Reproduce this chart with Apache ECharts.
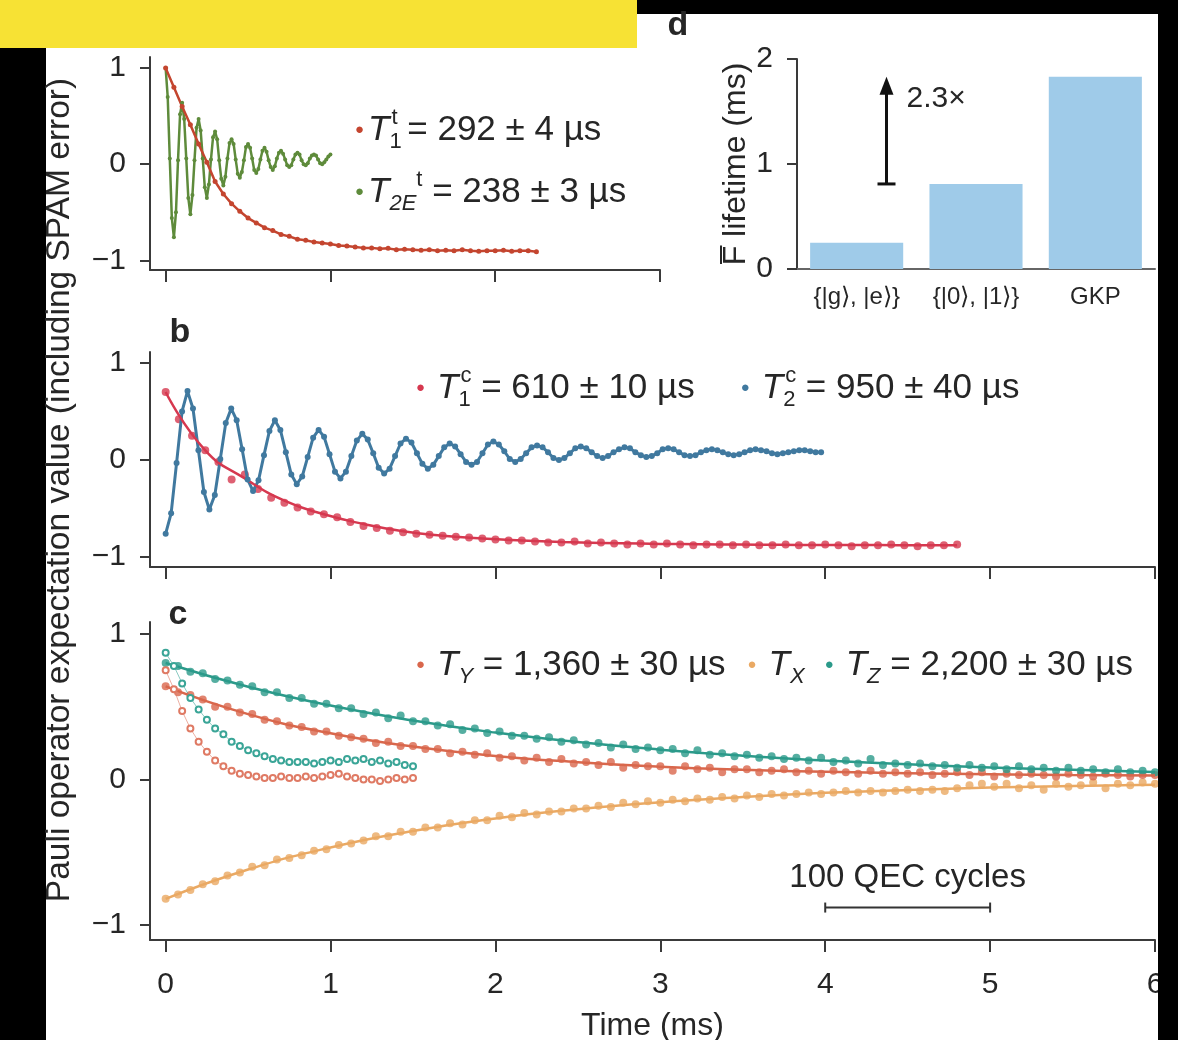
<!DOCTYPE html>
<html lang="en">
<head>
  <meta charset="UTF-8">
  <title>QEC lifetimes</title>
  <script src="https://cdn.jsdelivr.net/npm/echarts@6/dist/echarts.min.js"></script>
  <style>
    body { margin: 0; background: #000; }
    #wrap { position: relative; width: 1178px; height: 1040px; background: #000; overflow: hidden; }
    .blk { position: absolute; }
  </style>
</head>
<body>
  <div id="wrap">
    <div class="blk" style="left:46px;top:14px;width:1112px;height:1026px;background:#fff"></div>
    <div class="blk" style="left:0;top:0;width:637px;height:48px;background:#f7e234"></div>
    <div id="chart" class="blk" style="left:0;top:0;width:1178px;height:1040px"></div>
    <div class="blk" style="left:1158px;top:0;width:20px;height:1040px;background:#000"></div>
  </div>

  <script>
    const FONT = '"Liberation Sans", Arial, Helvetica, sans-serif';

    // ---- panel a : transmon T1 and T2E ----
    const aT1Step = 0.05;
    const aT1 = [1.00, 0.80, 0.60, 0.41, 0.21, 0.02, -0.18, -0.31, -0.41, -0.49,
      -0.56, -0.61, -0.66, -0.69, -0.73, -0.75, -0.78, -0.79, -0.81, -0.82,
      -0.83, -0.845, -0.85, -0.86, -0.87, -0.87, -0.88, -0.875, -0.89, -0.885,
      -0.89, -0.895, -0.89, -0.90, -0.895, -0.90, -0.89, -0.90, -0.905, -0.90,
      -0.90, -0.895, -0.905, -0.90, -0.90, -0.91];
    const aT2EStep = 0.0125;
    const aT2E = [1.00, 0.70, 0.06, -0.56, -0.76, -0.50, 0.04, 0.52,
      0.64, 0.47, 0.06, -0.35, -0.52, -0.32, 0.04, 0.38,
      0.47, 0.35, 0.06, -0.24, -0.35, -0.21, 0.05, 0.28,
      0.34, 0.26, 0.04, -0.15, -0.22, -0.13, 0.06, 0.22,
      0.26, 0.21, 0.05, -0.10, -0.14, -0.08, 0.04, 0.18,
      0.21, 0.17, 0.06, -0.06, -0.09, -0.05, 0.05, 0.14,
      0.17, 0.13, 0.04, -0.03, -0.06, -0.02, 0.06, 0.12,
      0.14, 0.11, 0.05, -0.01, -0.03, -0.01, 0.05, 0.10,
      0.12, 0.10, 0.04, 0.00, -0.01, 0.01, 0.06, 0.09,
      0.10, 0.09, 0.05, 0.01, 0.00, 0.02, 0.05, 0.08,
      0.10];

    // ---- panel b : cavity T1 and T2 ----
    const bT1Step = 0.08;
    const bT1 = [0.70, 0.42, 0.25, 0.10, -0.02, -0.20, -0.15, -0.30, -0.39, -0.44,
      -0.49, -0.53, -0.56, -0.59, -0.64, -0.68, -0.70, -0.73, -0.745, -0.76,
      -0.77, -0.78, -0.79, -0.80, -0.81, -0.82, -0.83, -0.83, -0.84, -0.85,
      -0.85, -0.84, -0.86, -0.85, -0.86, -0.87, -0.86, -0.87, -0.86, -0.87,
      -0.88, -0.87, -0.87, -0.88, -0.87, -0.88, -0.88, -0.87, -0.88, -0.88,
      -0.87, -0.88, -0.89, -0.88, -0.88, -0.87, -0.88, -0.89, -0.88, -0.88,
      -0.87];
    const bT1FitStep = 0.24;
    const bT1Fit = [0.70, 0.10, -0.19, -0.42, -0.56, -0.66, -0.735, -0.78, -0.81, -0.83,
      -0.845, -0.855, -0.862, -0.867, -0.87, -0.873, -0.875, -0.876, -0.877, -0.878, -0.878];
    const bT2Step = 0.033125;
    const bT2 = [-0.76, -0.55, -0.03, 0.50, 0.71, 0.53, 0.10, -0.33,
      -0.51, -0.36, 0.01, 0.38, 0.53, 0.41, 0.11, -0.20,
      -0.32, -0.21, 0.05, 0.30, 0.41, 0.31, 0.08, -0.15,
      -0.25, -0.17, 0.03, 0.23, 0.31, 0.24, 0.06, -0.12,
      -0.19, -0.12, 0.04, 0.20, 0.27, 0.21, 0.07, -0.08,
      -0.14, -0.09, 0.04, 0.17, 0.22, 0.18, 0.07, -0.04,
      -0.09, -0.05, 0.04, 0.13, 0.17, 0.14, 0.06, -0.02,
      -0.05, -0.02, 0.07, 0.16, 0.19, 0.16, 0.09, 0.01,
      -0.02, 0.01, 0.07, 0.13, 0.15, 0.13, 0.08, 0.02,
      0.00, 0.02, 0.07, 0.12, 0.14, 0.12, 0.08, 0.04,
      0.02, 0.04, 0.08, 0.11, 0.13, 0.12, 0.08, 0.05,
      0.03, 0.04, 0.07, 0.11, 0.12, 0.11, 0.08, 0.05,
      0.04, 0.05, 0.08, 0.10, 0.11, 0.10, 0.08, 0.06,
      0.05, 0.06, 0.08, 0.10, 0.11, 0.10, 0.09, 0.07,
      0.06, 0.07, 0.08, 0.09, 0.10, 0.10, 0.09, 0.08,
      0.08];

    // ---- panel c : logical qubit Pauli decays ----
    const cStep = 0.075;
    const cTY = [0.64, 0.60, 0.58, 0.55, 0.50, 0.50, 0.46, 0.45, 0.41, 0.40,
      0.37, 0.36, 0.33, 0.33, 0.30, 0.29, 0.28, 0.25, 0.26, 0.23,
      0.23, 0.21, 0.21, 0.18, 0.19, 0.17, 0.18, 0.15, 0.16, 0.13,
      0.15, 0.12, 0.14, 0.11, 0.12, 0.10, 0.12, 0.08, 0.10, 0.09,
      0.09, 0.06, 0.09, 0.07, 0.08, 0.05, 0.07, 0.07, 0.05, 0.06,
      0.07, 0.05, 0.06, 0.04, 0.06, 0.05, 0.04, 0.06, 0.04, 0.05,
      0.04, 0.05, 0.03, 0.04, 0.05, 0.03, 0.05, 0.02, 0.04, 0.03,
      0.04, 0.03, 0.02, 0.04, 0.03, 0.02, 0.04, 0.03, 0.02, 0.03, 0.03];
    const cTX = [-0.82, -0.79, -0.76, -0.72, -0.70, -0.66, -0.64, -0.60, -0.59, -0.55,
      -0.54, -0.52, -0.49, -0.48, -0.45, -0.44, -0.42, -0.39, -0.39, -0.36,
      -0.36, -0.33, -0.33, -0.30, -0.31, -0.28, -0.28, -0.25, -0.26, -0.23,
      -0.24, -0.22, -0.22, -0.20, -0.20, -0.18, -0.19, -0.16, -0.17, -0.15,
      -0.16, -0.14, -0.15, -0.13, -0.14, -0.12, -0.13, -0.11, -0.12, -0.10,
      -0.11, -0.10, -0.09, -0.10, -0.09, -0.08, -0.09, -0.08, -0.09, -0.08,
      -0.07, -0.08, -0.07, -0.08, -0.06, -0.04, -0.03, -0.05, -0.03, -0.06,
      -0.04, -0.07, -0.03, -0.05, -0.04, -0.02, -0.06, -0.03, -0.04, -0.02, -0.03];
    const cTZ = [0.80, 0.78, 0.74, 0.73, 0.69, 0.68, 0.65, 0.64, 0.60, 0.60,
      0.56, 0.56, 0.52, 0.52, 0.49, 0.49, 0.45, 0.46, 0.42, 0.44,
      0.40, 0.40, 0.37, 0.38, 0.34, 0.35, 0.32, 0.33, 0.30, 0.30,
      0.28, 0.29, 0.26, 0.27, 0.24, 0.25, 0.22, 0.24, 0.21, 0.22,
      0.20, 0.21, 0.18, 0.20, 0.17, 0.18, 0.16, 0.17, 0.15, 0.16,
      0.14, 0.15, 0.13, 0.15, 0.12, 0.13, 0.11, 0.14, 0.10, 0.11,
      0.10, 0.11, 0.09, 0.10, 0.08, 0.10, 0.08, 0.09, 0.07, 0.09,
      0.07, 0.08, 0.06, 0.08, 0.06, 0.07, 0.05, 0.07, 0.05, 0.06, 0.05];
    const cFitStep = 0.5;
    const cTYFit = [0.64, 0.449, 0.317, 0.226, 0.162, 0.119, 0.088, 0.067, 0.053, 0.043, 0.036, 0.031, 0.028];
    const cTXFit = [-0.82, -0.619, -0.467, -0.354, -0.268, -0.204, -0.156, -0.120, -0.092, -0.072, -0.056, -0.045, -0.036];
    const cTZFit = [0.80, 0.637, 0.508, 0.405, 0.322, 0.257, 0.205, 0.163, 0.130, 0.104, 0.082, 0.066, 0.052];
    // open symbols (unprotected reference)
    const cOpenStep = 0.05;
    const cOpenZ = [0.87, 0.78, 0.66, 0.56, 0.48, 0.41, 0.35, 0.31, 0.26, 0.23,
      0.20, 0.18, 0.16, 0.14, 0.13, 0.12, 0.12, 0.12, 0.11, 0.12,
      0.13, 0.12, 0.14, 0.13, 0.14, 0.12, 0.13, 0.11, 0.12, 0.10, 0.09];
    const cOpenY = [0.75, 0.62, 0.47, 0.35, 0.26, 0.19, 0.13, 0.09, 0.06, 0.04,
      0.03, 0.02, 0.01, 0.01, 0.02, 0.01, 0.01, 0.02, 0.01, 0.02,
      0.03, 0.04, 0.02, 0.01, 0.00, 0.00, -0.01, 0.00, 0.01, 0.00, 0.01];

    // ---- panel d : lifetimes ----
    const dCats = ['{|g\u27E9, |e\u27E9}', '{|0\u27E9, |1\u27E9}', 'GKP'];
    const dLifetimes = [0.25, 0.81, 1.83];

    const timeTicks = [0, 1, 2, 3, 4, 5, 6];
    const timeTicksA = [0, 1, 2, 3];
    const valTicks = [-1, 0, 1];
    const lifeTicks = [0, 1, 2];

    const pairs = (vals, step) => vals.map((v, i) => [+(i * step).toFixed(5), v]);
    const minus = v => (v < 0 ? '\u2212' + (-v) : String(v));

    const axisCol = '#3a3a3a';
    const ink = '#262626';
    function timeAxis(grid, max, ticks, showLabels) {
      return {
        type: 'value', gridIndex: grid, min: -0.095, max: max,
        axisLine: { show: true, onZero: false, lineStyle: { color: axisCol, width: 2 } },
        axisTick: { show: true, length: 12, customValues: ticks, lineStyle: { color: axisCol, width: 2 } },
        axisLabel: { show: showLabels, customValues: ticks, fontFamily: FONT, fontSize: 30, color: ink, margin: 30 },
        splitLine: { show: false }
      };
    }
    function valAxis(grid, min, max) {
      return {
        type: 'value', gridIndex: grid, min: min, max: max,
        axisLine: { show: true, onZero: false, lineStyle: { color: axisCol, width: 2 } },
        axisTick: { show: true, length: 10, customValues: valTicks, lineStyle: { color: axisCol, width: 2 } },
        axisLabel: { customValues: valTicks, formatter: minus, fontFamily: FONT, fontSize: 30, color: ink, margin: 24 },
        splitLine: { show: false }
      };
    }

    const colA1 = '#c4452f', colA2 = '#5e8b3b';
    const colB1 = '#d6384f', colB2 = '#40799f';
    const colY = '#d9674c', colX = '#eaa963', colZ = '#2b9a8a';

    // legend rows: rich text styles (zrender text, so colours go in fill)
    function richFor(size, dots) {
      const sub = Math.round(size * 0.62);
      const r = {
        t: { fontFamily: FONT, fontSize: size, fontStyle: 'italic', lineHeight: 46, fill: ink },
        n: { fontFamily: FONT, fontSize: size, lineHeight: 46, fill: ink },
        s: { fontFamily: FONT, fontSize: sub, lineHeight: 22, verticalAlign: 'bottom', fill: ink },
        sw: { fontFamily: FONT, fontSize: sub, lineHeight: 22, verticalAlign: 'bottom', fill: ink, width: 2 },
        si: { fontFamily: FONT, fontSize: sub, fontStyle: 'italic', lineHeight: 22, verticalAlign: 'bottom', fill: ink },
        p: { fontFamily: FONT, fontSize: sub, lineHeight: 22, verticalAlign: 'top', fill: ink }
      };
      Object.keys(dots).forEach(k => {
        r[k] = { fontFamily: FONT, fontSize: 15, lineHeight: 46, fill: dots[k][0], padding: dots[k][1] };
      });
      return r;
    }

    const option = {
      animation: false,
      grid: [
        { left: 150, top: 57, width: 510, height: 213, outerBoundsMode: 'none' },
        { left: 150, top: 352, width: 1005, height: 215, outerBoundsMode: 'none' },
        { left: 150, top: 622, width: 1005, height: 318, outerBoundsMode: 'none' },
        { left: 797, top: 59, width: 358, height: 210, outerBoundsMode: 'none' }
      ],
      xAxis: [
        timeAxis(0, 3, timeTicksA, false),
        timeAxis(1, 6, timeTicks, false),
        Object.assign(timeAxis(2, 6, timeTicks, true), {
          name: 'Time (ms)', nameLocation: 'middle', nameGap: 70,
          nameTextStyle: { fontFamily: FONT, fontSize: 32, color: ink }
        }),
        {
          type: 'category', gridIndex: 3, data: dCats,
          axisLine: { lineStyle: { color: '#666', width: 2 } },
          axisTick: { show: false },
          axisLabel: { fontFamily: FONT, fontSize: 24, color: ink, margin: 16 }
        }
      ],
      yAxis: [
        valAxis(0, -1.1, 1.115),
        valAxis(1, -1.103, 1.113),
        valAxis(2, -1.103, 1.082),
        {
          type: 'value', gridIndex: 3, min: 0, max: 2,
          axisLine: { show: true, lineStyle: { color: axisCol, width: 2 } },
          axisTick: { show: true, length: 10, customValues: lifeTicks, lineStyle: { color: axisCol, width: 2 } },
          axisLabel: { customValues: lifeTicks, fontFamily: FONT, fontSize: 30, color: ink, margin: 24 },
          splitLine: { show: false },
          name: 'F\u0305 lifetime (ms)', nameLocation: 'middle', nameRotate: 90, nameGap: 25,
          nameTextStyle: { fontFamily: FONT, fontSize: 32, color: ink }
        }
      ],
      series: [
        { name: 'T2E transmon', type: 'line', xAxisIndex: 0, yAxisIndex: 0, data: pairs(aT2E, aT2EStep),
          color: colA2, symbol: 'circle', symbolSize: 4, lineStyle: { width: 2.5 } },
        { name: 'T1 transmon', type: 'line', xAxisIndex: 0, yAxisIndex: 0, data: pairs(aT1, aT1Step),
          color: colA1, symbol: 'circle', symbolSize: 5, lineStyle: { width: 2.5 } },

        { name: 'T2 cavity', type: 'line', xAxisIndex: 1, yAxisIndex: 1, data: pairs(bT2, bT2Step),
          color: colB2, symbol: 'circle', symbolSize: 6, lineStyle: { width: 3 } },
        { name: 'T1 cavity fit', type: 'line', xAxisIndex: 1, yAxisIndex: 1, data: pairs(bT1Fit, bT1FitStep),
          color: colB1, smooth: true, showSymbol: false, lineStyle: { width: 2.5 } },
        { name: 'T1 cavity', type: 'scatter', xAxisIndex: 1, yAxisIndex: 1, data: pairs(bT1, bT1Step),
          color: colB1, symbolSize: 8 },

        { name: 'Z open', type: 'line', xAxisIndex: 2, yAxisIndex: 2, data: pairs(cOpenZ, cOpenStep),
          color: '#3aa597', symbol: 'emptyCircle', symbolSize: 6, lineStyle: { width: 1, opacity: 0.6 } },
        { name: 'Y open', type: 'line', xAxisIndex: 2, yAxisIndex: 2, data: pairs(cOpenY, cOpenStep),
          color: '#df7a64', symbol: 'emptyCircle', symbolSize: 6, lineStyle: { width: 1, opacity: 0.6 } },
        { name: 'TX fit', type: 'line', xAxisIndex: 2, yAxisIndex: 2, data: pairs(cTXFit, cFitStep),
          color: colX, smooth: true, showSymbol: false, lineStyle: { width: 2.5 } },
        { name: 'TY fit', type: 'line', xAxisIndex: 2, yAxisIndex: 2, data: pairs(cTYFit, cFitStep),
          color: colY, smooth: true, showSymbol: false, lineStyle: { width: 2.5 } },
        { name: 'TZ fit', type: 'line', xAxisIndex: 2, yAxisIndex: 2, data: pairs(cTZFit, cFitStep),
          color: colZ, smooth: true, showSymbol: false, lineStyle: { width: 2.5 } },
        { name: 'TX', type: 'scatter', xAxisIndex: 2, yAxisIndex: 2, data: pairs(cTX, cStep), color: colX, symbolSize: 8 },
        { name: 'TY', type: 'scatter', xAxisIndex: 2, yAxisIndex: 2, data: pairs(cTY, cStep), color: colY, symbolSize: 8 },
        { name: 'TZ', type: 'scatter', xAxisIndex: 2, yAxisIndex: 2, data: pairs(cTZ, cStep), color: colZ, symbolSize: 8 },

        { name: 'lifetime', type: 'bar', xAxisIndex: 3, yAxisIndex: 3, data: dLifetimes,
          color: '#9fcbe9', barWidth: '78%' }
      ]
    };

    const chart = echarts.init(document.getElementById('chart'));
    chart.setOption(option);

    // annotations placed from the data scales
    const bandW = 358 / dCats.length;
    const pLow = chart.convertToPixel({ gridIndex: 3 }, [0, dLifetimes[1]]);
    const pHigh = chart.convertToPixel({ gridIndex: 3 }, [0, dLifetimes[2]]);
    const ax = pLow[0] + bandW * 0.25;
    const qa = chart.convertToPixel({ gridIndex: 2 }, [4, -0.88]);
    const qb = chart.convertToPixel({ gridIndex: 2 }, [5, -0.88]);
    const txt = (x, y, s, font, extra) => ({
      type: 'text', x: x, y: y, z: 50,
      style: Object.assign({ text: s, fill: ink, font: font, textAlign: 'center', textVerticalAlign: 'middle' }, extra || {})
    });
    const richRow = (x, y, s, size, dots) => ({
      type: 'text', x: x, y: y, z: 50,
      style: { text: s, rich: richFor(size, dots), textAlign: 'left', textVerticalAlign: 'middle', fill: ink }
    });

    const ylabel = txt(60, 490, 'Pauli operator expectation value (including SPAM error)', '33.5px ' + FONT);
    ylabel.rotation = Math.PI / 2;

    chart.setOption({
      graphic: [
        ylabel,
        txt(180, 333, 'b', 'bold 34px ' + FONT),
        txt(178, 615, 'c', 'bold 34px ' + FONT),
        txt(678, 26, 'd', 'bold 34px ' + FONT),
        // legends
        richRow(355, 130, '{da|●}{t|T}{sw|1}{p|t}{n| = 292 ± 4 µs}', 35, { da: [colA1, [0, 4, 0, 0]] }),
        richRow(355, 192, '{db|●}{t|T}{si|2E}{p|t}{n| = 238 ± 3 µs}', 35, { db: [colA2, [0, 4, 0, 0]] }),
        richRow(416, 388, '{da|●}{t|T}{sw|1}{p|c}{n| = 610 ± 10 µs}{db|●}{t|T}{sw|2}{p|c}{n| = 950 ± 40 µs}', 35,
          { da: [colB1, [0, 12, 0, 0]], db: [colB2, [0, 12, 0, 46]] }),
        richRow(416, 665, '{da|●}{t|T}{si|Y}{n| = 1,360 ± 30 µs}{db|●}{t|T}{si|X}{dc|●}{t|T}{si|Z}{n| = 2,200 ± 30 µs}', 35,
          { da: [colY, [0, 12, 0, 0]], db: [colX, [0, 12, 0, 22]], dc: [colZ, [0, 12, 0, 20]] }),
        // arrow 2.3x
        { type: 'line', z: 50, shape: { x1: ax, y1: pLow[1], x2: ax, y2: pHigh[1] + 14 }, style: { stroke: '#111', lineWidth: 3 } },
        { type: 'line', z: 50, shape: { x1: ax - 9, y1: pLow[1], x2: ax + 9, y2: pLow[1] }, style: { stroke: '#111', lineWidth: 3 } },
        { type: 'polygon', z: 50, shape: { points: [[ax, pHigh[1]], [ax - 7, pHigh[1] + 18], [ax + 7, pHigh[1] + 18]] }, style: { fill: '#111' } },
        txt(ax + 20, pHigh[1] + 22, '2.3\u00D7', '30px ' + FONT, { textAlign: 'left' }),
        // 100 QEC cycles scale bar
        { type: 'line', z: 50, shape: { x1: qa[0], y1: qa[1], x2: qb[0], y2: qb[1] }, style: { stroke: '#333', lineWidth: 2 } },
        { type: 'line', z: 50, shape: { x1: qa[0], y1: qa[1] - 5, x2: qa[0], y2: qa[1] + 5 }, style: { stroke: '#333', lineWidth: 2 } },
        { type: 'line', z: 50, shape: { x1: qb[0], y1: qb[1] - 5, x2: qb[0], y2: qb[1] + 5 }, style: { stroke: '#333', lineWidth: 2 } },
        txt((qa[0] + qb[0]) / 2, qa[1] - 30, '100 QEC cycles', '33px ' + FONT)
      ]
    });
  </script>
</body>
</html>
